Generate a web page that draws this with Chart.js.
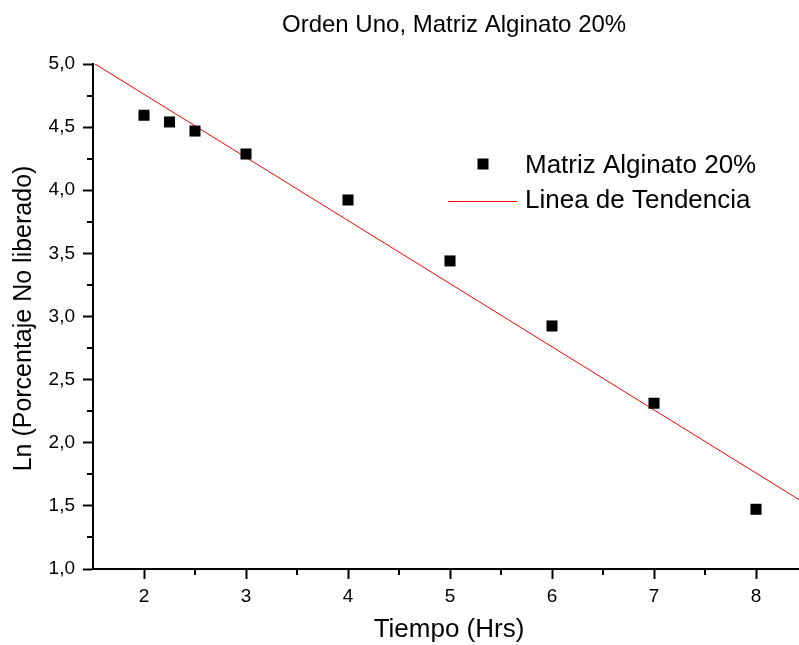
<!DOCTYPE html>
<html>
<head>
<meta charset="utf-8">
<script src="https://cdn.jsdelivr.net/npm/chart.js@4.4.1/dist/chart.umd.min.js"></script>
<style>
  html, body { margin: 0; padding: 0; background: #fff; overflow: hidden; }
  #wrap { width: 799px; height: 645px; overflow: hidden; position: relative; background: #fff; }
  canvas { display: block; }
</style>
</head>
<body>
<div id="wrap"><canvas id="c" width="810" height="645"></canvas></div>
<script>
// Measured release data: time (h) vs ln(% not released)
const tiempo = [2, 2.25, 2.5, 3, 4, 5, 6, 7, 8];
const lnNoLiberado = [4.594, 4.541, 4.469, 4.287, 3.923, 3.440, 2.925, 2.313, 1.473];

// First-order trend line endpoints
const tendenciaX = [1.5, 8.5];
const tendenciaY = [5.01, 1.51];

// Axis ticks
const xMajorTicks = [2, 3, 4, 5, 6, 7, 8];
const xMinorTicks = [2.5, 3.5, 4.5, 5.5, 6.5, 7.5, 8.5];
const yMajorTicks = [1.0, 1.5, 2.0, 2.5, 3.0, 3.5, 4.0, 4.5, 5.0];
const yMinorTicks = [1.25, 1.75, 2.25, 2.75, 3.25, 3.75, 4.25, 4.75];

// Texts
const chartTitle = 'Orden Uno, Matriz Alginato 20%';
const xTitle = 'Tiempo (Hrs)';
const yTitle = 'Ln (Porcentaje No liberado)';
const seriesNames = ['Matriz Alginato 20%', 'Linea de Tendencia'];

const FONT = '"Liberation Sans", Arial, Helvetica, sans-serif';

const pointStyleOpts = { pointStyle: 'rect', radius: 7.8, rotation: 0, borderWidth: 0 };

const decorations = {
  id: 'decorations',
  afterDraw(chart) {
    const { ctx, chartArea, scales } = chart;
    const xs = scales.x, ys = scales.y;
    ctx.save();

    // minor ticks
    ctx.strokeStyle = '#000';
    ctx.lineWidth = 2;
    ctx.beginPath();
    yMinorTicks.forEach(v => {
      const py = Math.round(ys.getPixelForValue(v));
      ctx.moveTo(chartArea.left - 6, py);
      ctx.lineTo(chartArea.left, py);
    });
    xMinorTicks.forEach(v => {
      const px = Math.round(xs.getPixelForValue(v));
      ctx.moveTo(px, chartArea.bottom);
      ctx.lineTo(px, chartArea.bottom + 6);
    });
    ctx.stroke();

    ctx.fillStyle = '#000';
    ctx.textBaseline = 'alphabetic';

    // chart title
    ctx.font = '24px ' + FONT;
    ctx.textAlign = 'left';
    ctx.fillText(chartTitle, 282, 32);

    // x axis title
    ctx.font = '26px ' + FONT;
    ctx.textAlign = 'center';
    ctx.fillText(xTitle, 449, 637);

    // y axis title
    ctx.save();
    ctx.translate(31, 318.5);
    ctx.rotate(-Math.PI / 2);
    ctx.font = '25px ' + FONT;
    ctx.textAlign = 'center';
    ctx.fillText(yTitle, 0, 0);
    ctx.restore();

    // legend
    const ds0 = chart.data.datasets[0];
    const ds1 = chart.data.datasets[1];
    ctx.fillStyle = ds0.backgroundColor;
    Chart.helpers.drawPoint(ctx, Object.assign({}, pointStyleOpts), 483, 164);
    ctx.strokeStyle = ds1.borderColor;
    ctx.lineWidth = ds1.borderWidth;
    ctx.beginPath();
    ctx.moveTo(448, 201.5);
    ctx.lineTo(517, 201.5);
    ctx.stroke();
    ctx.fillStyle = '#000';
    ctx.font = '26px ' + FONT;
    ctx.textAlign = 'left';
    ctx.fillText(seriesNames[0], 525, 173);
    ctx.fillText(seriesNames[1], 525, 208);

    ctx.restore();
  }
};

new Chart(document.getElementById('c'), {
  type: 'scatter',
  data: {
    datasets: [
      {
        label: seriesNames[0],
        data: tiempo.map((t, i) => ({ x: t, y: lnNoLiberado[i] })),
        backgroundColor: '#000',
        borderColor: '#000',
        borderWidth: 0,
        pointStyle: 'rect',
        pointRadius: 7.8,
        pointHoverRadius: 7.8,
        showLine: false
      },
      {
        label: seriesNames[1],
        data: tendenciaX.map((t, i) => ({ x: t, y: tendenciaY[i] })),
        borderColor: '#ff0000',
        backgroundColor: '#ff0000',
        borderWidth: 1,
        pointRadius: 0,
        showLine: true,
        fill: false
      }
    ]
  },
  options: {
    responsive: false,
    animation: false,
    events: [],
    layout: { autoPadding: false, padding: { left: 0, top: 64, right: 3, bottom: 0 } },
    plugins: {
      legend: { display: false },
      tooltip: { enabled: false },
      title: { display: false }
    },
    scales: {
      x: {
        type: 'linear',
        min: 1.5,
        max: 8.5,
        afterBuildTicks: s => { s.ticks = xMajorTicks.map(v => ({ value: v })); },
        afterFit: s => { s.height = 76; },
        grid: { display: true, drawOnChartArea: false, drawTicks: true, tickLength: 10, tickWidth: 2, tickColor: '#000' },
        border: { display: true, color: '#000', width: 2 },
        ticks: {
          color: '#000',
          font: { family: FONT, size: 19 },
          padding: 6,
          maxRotation: 0,
          autoSkip: false,
          callback: v => String(v)
        }
      },
      y: {
        type: 'linear',
        min: 1.0,
        max: 5.0,
        afterBuildTicks: s => { s.ticks = yMajorTicks.map(v => ({ value: v })); },
        afterFit: s => { s.width = 93; },
        grid: { display: true, drawOnChartArea: false, drawTicks: true, tickLength: 10, tickWidth: 2, tickColor: '#000' },
        border: { display: true, color: '#000', width: 2 },
        ticks: {
          color: '#000',
          font: { family: FONT, size: 19 },
          padding: 8,
          autoSkip: false,
          callback: v => v.toFixed(1).replace('.', ',')
        }
      }
    }
  },
  plugins: [decorations]
});
</script>
</body>
</html>
